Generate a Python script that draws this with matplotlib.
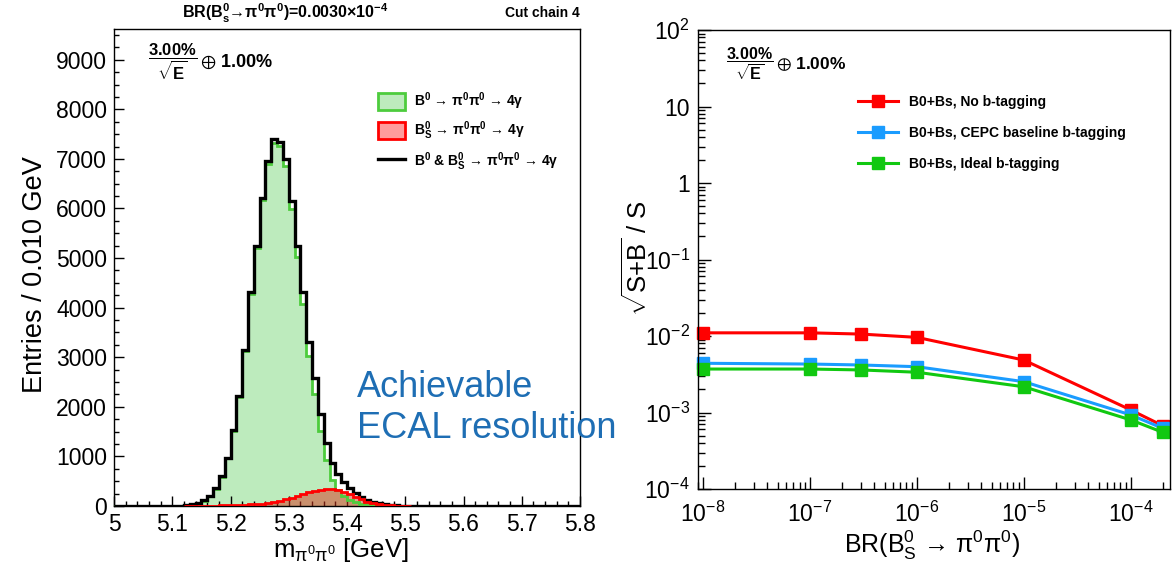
import numpy as np
import matplotlib
matplotlib.use("Agg")
import matplotlib.pyplot as plt
from matplotlib.patches import Patch
from matplotlib.lines import Line2D
from matplotlib.ticker import MultipleLocator, LogLocator, FuncFormatter, NullFormatter

plt.rcParams["font.family"] = ["Liberation Sans", "DejaVu Sans"]
plt.rcParams["mathtext.fontset"] = "custom"
plt.rcParams["mathtext.rm"] = "Liberation Sans"
plt.rcParams["mathtext.it"] = "Liberation Sans:italic"
plt.rcParams["mathtext.bf"] = "Liberation Sans:bold"
plt.rcParams["mathtext.sf"] = "Liberation Sans"
plt.rcParams["mathtext.default"] = "regular"

# left panel: m(pi0 pi0) histograms, 80 bins of 0.010 GeV from 5.0 to 5.8
edges = np.round(np.linspace(5.0, 5.8, 81), 3)
b0_counts = [0, 0, 0, 0, 0, 0, 0, 0, 0, 0,
             5, 10, 17, 36, 62, 108, 193, 346, 592, 958,
             1512, 2206, 3127, 4282, 5210, 6170, 6888, 7322, 7252, 6865,
             5985, 5030, 4065, 3035, 2265, 1514, 930, 532, 322, 195,
             120, 75, 45, 40, 27, 22, 15, 11, 6, 4,
             3, 2, 0, 0, 0, 0, 0, 0, 0, 0,
             0, 0, 0, 0, 0, 0, 0, 0, 0, 0,
             0, 0, 0, 0, 0, 0, 0, 0, 0, 0]
bs_counts = [0, 0, 0, 0, 0, 0, 0, 0, 0, 0,
             0, 0, 3, 4, 5, 6, 8, 10, 12, 15,
             18, 22, 27, 33, 40, 50, 62, 78, 98, 135,
             165, 205, 250, 280, 312, 332, 345, 340, 318, 285,
             240, 190, 140, 85, 55, 33, 20, 11, 6, 3,
             1, 0, 0, 0, 0, 0, 0, 0, 0, 0,
             0, 0, 0, 0, 0, 0, 0, 0, 0, 0,
             0, 0, 0, 0, 0, 0, 0, 0, 0, 0]

# right panel: sqrt(S+B)/S vs BR(Bs -> pi0 pi0)
br_values = [1e-8, 1e-7, 3e-7, 1e-6, 1e-5, 1e-4, 2e-4]
no_btag = [0.0110, 0.0110, 0.0106, 0.0096, 0.00485, 0.00108, 0.00067]
cepc_btag = [0.0044, 0.0043, 0.00418, 0.00397, 0.00253, 0.00093, 0.00062]
ideal_btag = [0.0037, 0.0037, 0.0036, 0.00336, 0.00217, 0.00080, 0.00055]

W, H = 1173, 569
fig = plt.figure(figsize=(W / 100, H / 100), dpi=100)

def fx(px):
    return px / W

def fy(py):
    return 1 - py / H

# ---------------- left panel ----------------
ax1 = fig.add_axes([fx(114), fy(506), (580 - 114) / W, (506 - 29) / H])
b0 = np.array(b0_counts, dtype=float)
bs = np.array(bs_counts, dtype=float)
total = b0 + bs

green_fill = "#bdebbd"
green_line = "#4dcc3d"
ax1.stairs(b0, edges, fill=True, color=green_fill, zorder=1)
ax1.stairs(bs, edges, fill=True, color="#d8361f", alpha=0.5, zorder=2)
ax1.stairs(b0, edges, color=green_line, lw=2.0, zorder=3)
ax1.stairs(total, edges, color="black", lw=2.4, zorder=4)
nz = np.nonzero(bs)[0]
ax1.stairs(bs[nz[0]:nz[-1] + 1], edges[nz[0]:nz[-1] + 2], color="red", lw=2.0,
           baseline=None, zorder=5)

ax1.set_xlim(5.0, 5.8)
ax1.set_ylim(0, 9620)
ax1.xaxis.set_major_locator(MultipleLocator(0.1))
ax1.xaxis.set_minor_locator(MultipleLocator(0.02))
ax1.yaxis.set_major_locator(MultipleLocator(1000))
ax1.yaxis.set_minor_locator(MultipleLocator(250))
ax1.xaxis.set_major_formatter(FuncFormatter(lambda v, p: "5" if abs(v - 5) < 1e-6 else f"{v:.1f}"))
ax1.tick_params(which="both", direction="in", top=False, right=False, labelsize=16.5, width=1)
ax1.tick_params(which="major", length=7, pad=5)
ax1.tick_params(which="minor", length=3.5)
for s in ax1.spines.values():
    s.set_linewidth(1)

fig.text(fx(35), fy(275), "Entries / 0.010 GeV", rotation=90, ha="center", va="center", fontsize=19.5)
fig.text(fx(341), fy(550), r"m$_{\pi^0\pi^0}$ [GeV]", ha="center", va="center", fontsize=18.5)
fig.text(fx(285), fy(13), r"BR(B$_s^0$→π$^0$π$^0$)=0.0030×10$^{-4}$",
         ha="center", va="center", fontsize=11.5, fontweight="bold")
fig.text(fx(580), fy(13), "Cut chain 4", ha="right", va="center", fontsize=10, fontweight="bold")

fig.text(fx(148), fy(62), r"$\dfrac{\mathbf{3.00\%}}{\sqrt{\mathbf{E}}}$", ha="left", va="center", fontsize=12)
fig.text(fx(200), fy(62), r"$\oplus$ 1.00%", ha="left", va="center", fontsize=13, fontweight="bold")

handles1 = [Patch(facecolor=green_fill, edgecolor=green_line, lw=2),
            Patch(facecolor="#ff9c9c", edgecolor="red", lw=2),
            Line2D([], [], color="black", lw=2.4)]
labels1 = [r"B$^0$ → π$^0$π$^0$ → 4γ",
           r"B$_S^0$ → π$^0$π$^0$ → 4γ",
           r"B$^0$ & B$_S^0$ → π$^0$π$^0$ → 4γ"]
fig.legend(handles1, labels1, loc="upper left", bbox_to_anchor=(fx(372), fy(85)),
           frameon=False, prop={"size": 10, "weight": "bold"}, handlelength=2.0,
           handleheight=1.5, labelspacing=0.55, handletextpad=0.6, borderaxespad=0)

fig.text(fx(357), fy(397), "Achievable", ha="left", va="baseline", fontsize=26, color="#1e6eb4")
fig.text(fx(357), fy(438), "ECAL resolution", ha="left", va="baseline", fontsize=26, color="#1e6eb4")

# ---------------- right panel ----------------
ax2 = fig.add_axes([fx(698), fy(489), (1170 - 698) / W, (489 - 30) / H])
series = [(no_btag, "#ff0000", "B0+Bs, No b-tagging"),
          (cepc_btag, "#1a9cff", "B0+Bs, CEPC baseline b-tagging"),
          (ideal_btag, "#11c811", "B0+Bs, Ideal b-tagging")]
for vals, col, lab in series:
    ax2.plot(br_values, vals, color=col, lw=2.2, marker="s", markersize=8, label=lab, clip_on=False)

ax2.set_xscale("log")
ax2.set_yscale("log")
ax2.set_xlim(8.98e-9, 2.33e-4)
ax2.set_ylim(1e-4, 1e2)

def log_fmt(v, p):
    n = int(round(np.log10(v)))
    if n == 0:
        return "1"
    if n == 1:
        return "10"
    return r"$\mathdefault{10^{%d}}$" % n

ax2.xaxis.set_major_locator(LogLocator(base=10, numticks=20))
ax2.yaxis.set_major_locator(LogLocator(base=10, numticks=20))
ax2.xaxis.set_minor_locator(LogLocator(base=10, subs=np.arange(2, 10), numticks=20))
ax2.yaxis.set_minor_locator(LogLocator(base=10, subs=np.arange(2, 10), numticks=20))
ax2.xaxis.set_major_formatter(FuncFormatter(log_fmt))
ax2.yaxis.set_major_formatter(FuncFormatter(log_fmt))
ax2.xaxis.set_minor_formatter(NullFormatter())
ax2.yaxis.set_minor_formatter(NullFormatter())
ax2.tick_params(which="both", direction="in", top=False, right=False, labelsize=16.5, width=1)
ax2.tick_params(which="major", length=9)
ax2.tick_params(axis="x", which="major", pad=9)
ax2.tick_params(axis="y", which="major", pad=6)
ax2.tick_params(which="minor", length=5)
for s in ax2.spines.values():
    s.set_linewidth(1)

fig.text(fx(637), fy(258), r"$\sqrt{S{+}B}$ / S", rotation=90, ha="center", va="center", fontsize=18.5)
fig.text(fx(932), fy(545), r"BR(B$_S^0$ → π$^0$π$^0$)", ha="center", va="center", fontsize=18)

fig.text(fx(726), fy(64), r"$\dfrac{\mathbf{3.00\%}}{\sqrt{\mathbf{E}}}$", ha="left", va="center", fontsize=11.5)
fig.text(fx(776), fy(64), r"$\oplus$ 1.00%", ha="left", va="center", fontsize=12.5, fontweight="bold")

ax2.legend(loc="upper left", bbox_to_anchor=(fx(852), fy(89)), bbox_transform=fig.transFigure,
           frameon=False, prop={"size": 10, "weight": "bold"}, handlelength=2.9,
           labelspacing=1.25, handletextpad=0.8, borderaxespad=0)

fig.savefig("out.png", dpi=100)
